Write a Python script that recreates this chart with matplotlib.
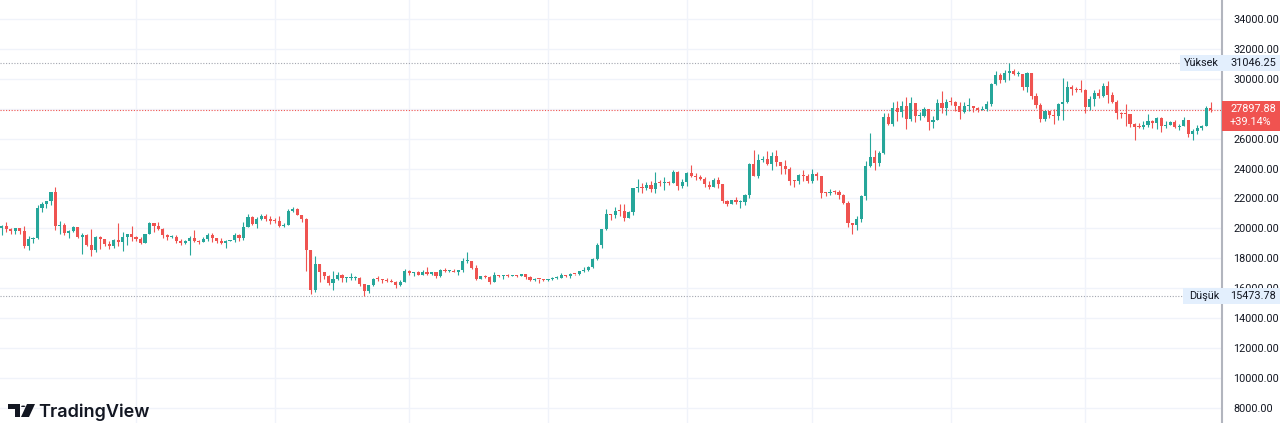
import matplotlib.pyplot as plt
from matplotlib.patches import Rectangle, Polygon, Circle

# BTC daily candles, 1 Sep 2022 .. 29 May 2023
first_open = 20050
closes = [
    # Sep
    20130, 19950, 19830, 19990, 19810, 18840, 19290, 19320, 21380, 21650,
    21830, 22400, 20180, 20240, 19700, 19800, 20110, 19420, 19540, 18870,
    18550, 19410, 19300, 18930, 18800, 19220, 19110, 19430, 19590, 19430,
    # Oct
    19310, 19050, 19620, 20340, 20160, 19960, 19530, 19420, 19450, 19140,
    19050, 19160, 19380, 19180, 19070, 19270, 19550, 19330, 19140, 19050,
    19170, 19210, 19570, 19330, 20090, 20770, 20290, 20600, 20810, 20630, 20500,
    # Nov
    20480, 20150, 20210, 21150, 21300, 20900, 20590, 18540, 15880, 17590,
    17070, 16810, 16330, 16620, 16900, 16660, 16690, 16700, 16700, 16280,
    15780, 16190, 16610, 16600, 16520, 16460, 16440, 16220, 16440, 17170,
    # Dec
    16980, 17090, 16890, 17110, 16970, 17090, 16840, 17230, 17130, 17130,
    17090, 17210, 17780, 17810, 17360, 16630, 16780, 16740, 16440, 16900,
    16830, 16830, 16790, 16840, 16830, 16920, 16710, 16550, 16630, 16600, 16540,
    # Jan
    16620, 16670, 16670, 16850, 16830, 16950, 16940, 17120, 17180, 17440,
    17940, 18850, 19930, 20950, 20870, 21170, 21160, 20690, 21090, 22680,
    22780, 22710, 22920, 22630, 23060, 23010, 23080, 23030, 23740, 22830, 23130,
    # Feb
    23730, 23490, 23430, 23330, 22930, 22760, 23260, 22960, 21800, 21630,
    21860, 21780, 21790, 22200, 24330, 23520, 24570, 24630, 24280, 24840,
    24440, 24190, 23950, 23190, 23160, 23560, 23490, 23150,
    # Mar
    23650, 23470, 22360, 22350, 22430, 22410, 22200, 21720, 20360, 20190,
    20630, 22160, 24200, 24750, 24380, 25050, 27420, 26970, 28040, 27770,
    28180, 27300, 28350, 27480, 27490, 27990, 27140, 27270, 28350, 28030, 28480,
    # Apr
    28450, 28200, 27800, 28170, 28180, 28040, 27920, 27950, 28330, 29650,
    30240, 29900, 30390, 30490, 30320, 30320, 29430, 30400, 28820, 28250,
    27280, 27820, 27600, 27520, 28310, 28420, 29480, 29340, 29250, 29230,
    # May
    28090, 28680, 29030, 28850, 29530, 28900, 28460, 27690, 27650, 27620,
    26990, 26800, 26780, 26930, 27170, 27040, 27400, 26830, 26890, 27120,
    26750, 26850, 27230, 26330, 26480, 26720, 26870, 28080, 27897.88,
]
highs = [
    20200, 20440, 20050, 20000, 20050, 20160, 19460, 19440, 21530, 21780,
    21850, 22450, 22790, 20500, 20330, 19890, 20170, 20110, 19670, 19620,
    19930, 19460, 19470, 19310, 19170, 19290, 20350, 19770, 19640, 20180,
    19480, 19390, 19650, 20450, 20360, 20450, 20040, 19610, 19520, 19530,
    19260, 19220, 19500, 19920, 19210, 19390, 19660, 19700, 19360, 19340,
    19250, 19250, 19680, 19600, 20390, 20990, 20850, 20740, 20980, 20930, 20820,
    20680, 20790, 20380, 21280, 21440, 21350, 20910, 20670, 18580, 18150,
    17620, 17080, 16910, 17150, 17050, 16920, 16730, 17000, 16830, 16750,
    16290, 16240, 16690, 16780, 16620, 16660, 16590, 16480, 16520, 17250,
    17200, 17110, 17140, 17180, 17390, 17110, 17100, 17290, 17320, 17220,
    17270, 17240, 18000, 18390, 17830, 17520, 16800, 16860, 16810, 17060,
    16910, 16870, 16950, 16870, 16870, 16940, 16960, 16780, 16650, 16640, 16640,
    16630, 16760, 16780, 16990, 16880, 17010, 16960, 17160, 17390, 17490,
    18000, 19000, 19960, 21260, 20990, 21420, 21600, 21600, 21180, 22720,
    23300, 23020, 23120, 23150, 23750, 23230, 23450, 23140, 23920, 23800, 23310,
    23760, 24230, 23680, 23570, 23420, 23140, 23340, 23420, 22990, 21900,
    21890, 22070, 21880, 22320, 24370, 25230, 25000, 24850, 25190, 25100,
    25250, 24460, 24590, 24100, 23220, 23650, 23870, 23600,
    24000, 23780, 23480, 22420, 22600, 22550, 22530, 22270, 21810, 20370,
    20800, 22230, 24500, 26400, 25240, 25200, 27700, 27700, 28450, 28500,
    28500, 28810, 28760, 28380, 27790, 28140, 28000, 27500, 28630, 29160, 28640,
    28800, 28520, 28480, 28430, 28740, 28180, 28100, 28170, 28520, 29750,
    30500, 30400, 30570, 31046.25, 30630, 30540, 30320, 30470, 30410, 29080,
    28370, 27880, 27820, 28000, 28380, 30030, 29880, 29590, 29420, 29950,
    29340, 28880, 29260, 29350, 29700, 29830, 29110, 28600, 27800, 28300,
    27650, 27020, 27020, 27200, 27650, 27270, 27450, 27460, 27180, 27150,
    27250, 26980, 27470, 27200, 26630, 26940, 26880, 28150, 28440,
]
lows = [
    19560, 19760, 19650, 19600, 19640, 18680, 18540, 19020, 19300, 21110,
    21370, 21540, 19900, 19650, 19550, 19330, 19740, 19380, 18270, 18820,
    18170, 18390, 18630, 18810, 18640, 18680, 18830, 18490, 18870, 19170,
    19160, 18950, 18990, 19600, 19760, 19870, 19330, 19250, 19320, 19050,
    18860, 18980, 18190, 19100, 18960, 19060, 19170, 19110, 19000, 18940,
    18670, 19120, 19080, 19160, 19240, 20060, 20210, 20030, 20570, 20520, 20270,
    20360, 20060, 20060, 20190, 21090, 20900, 20400, 17170, 15590, 15760,
    16440, 16620, 16230, 15870, 16550, 16420, 16420, 16550, 16560, 16170,
    15473.78, 15650, 16160, 16480, 16350, 16420, 16400, 16000, 16110, 16430,
    16880, 16830, 16880, 16880, 16880, 16910, 16700, 16750, 17090, 17090,
    17070, 16880, 17090, 17670, 17290, 16560, 16590, 16690, 16290, 16400,
    16720, 16590, 16760, 16780, 16740, 16790, 16600, 16470, 16490, 16340, 16480,
    16500, 16550, 16600, 16660, 16750, 16690, 16900, 16910, 17100, 17140,
    17320, 17890, 18700, 19880, 20560, 20660, 20850, 20470, 20660, 20880,
    22460, 22340, 22560, 22430, 22370, 22810, 22560, 22880, 23000, 22580, 22720,
    22860, 23400, 23220, 23260, 22760, 22640, 22750, 22670, 21710, 21480,
    21610, 21640, 21360, 21530, 22060, 23510, 23360, 24460, 24220, 23880,
    24170, 23620, 23630, 22880, 22740, 22950, 23140, 23040,
    23030, 23220, 22050, 22180, 22200, 22290, 21930, 21610, 20090, 19600,
    19900, 20450, 21900, 24100, 23920, 24200, 24940, 26880, 26850, 27200,
    27420, 26630, 27200, 27090, 27260, 27470, 26580, 26700, 27250, 27720, 27560,
    28270, 27870, 27290, 27680, 27850, 27760, 27780, 27880, 27830, 28180,
    29600, 29700, 29800, 29900, 30240, 30170, 29270, 29130, 28650, 28020,
    27140, 27150, 27360, 26970, 27220, 27250, 28390, 28920, 29100, 29100,
    27700, 27890, 28150, 28710, 28800, 28400, 28350, 27300, 27400, 26870,
    26780, 25880, 26700, 26610, 26760, 26700, 26610, 26460, 26690, 26880,
    26680, 26550, 26810, 26100, 25880, 26330, 26560, 26860, 27760,
]
month_starts = [30, 61, 91, 122, 153, 181, 212, 242]  # 1 Oct .. 1 May
price_ticks = list(range(8000, 34001, 2000))
hidden_tick = 28000  # covered by the last-price label
period_high = 31046.25
period_low = 15473.78
last_price = 27897.88
change_pct = 39.14

opens = [first_open] + closes[:-1]
days = list(range(len(closes)))

UP = '#26a69a'
DOWN = '#ef5350'
TXT = '#131722'
W, H = 1280, 423
AX_W = 1222
y0, y1 = 6977, 35271

plt.rcParams['font.family'] = ['Roboto', 'DejaVu Sans']
fig = plt.figure(figsize=(W / 100, H / 100), dpi=100)
ax = fig.add_axes([0, 0, AX_W / W, 1])
ax.set_xlim(-0.38, 272.54)
ax.set_ylim(y0, y1)

def ph(p):  # pixels -> data height
    return p * (y1 - y0) / H

def pw(p):  # pixels -> axes fraction
    return p / AX_W

cols = [UP if c >= o else DOWN for o, c in zip(opens, closes)]
ax.vlines(days, lows, highs, colors=cols, linewidth=0.8, zorder=3)
bottoms = [min(o, c) for o, c in zip(opens, closes)]
heights = [max(abs(c - o), ph(1)) for o, c in zip(opens, closes)]
ax.bar(days, heights, bottom=bottoms, width=0.7, color=cols, linewidth=0, zorder=3)

ax.set_xticks(month_starts)
ax.set_yticks(price_ticks)
ax.yaxis.set_major_formatter(
    plt.FuncFormatter(lambda v, _: '' if round(v) == hidden_tick else f'{v:.2f}'))
ax.yaxis.tick_right()
ax.tick_params(axis='x', length=0, labelbottom=False)
ax.tick_params(axis='y', length=0, pad=8, labelsize=7.8, colors=TXT)
ax.grid(True, color='#f0f3fa', linewidth=1, zorder=0)
ax.set_axisbelow(True)
for s in ['top', 'bottom', 'left']:
    ax.spines[s].set_visible(False)
ax.spines['right'].set_color('#b2b5be')
ax.spines['right'].set_linewidth(1.5)

yt = ax.get_yaxis_transform()
box_w = pw(W - AX_W)

# high / low markers
for val, name, lx in [(period_high, 'Yüksek', 1180), (period_low, 'Düşük', 1183)]:
    ax.plot([0, pw(lx)], [val, val], transform=yt, color='#a3a6af',
            linewidth=0.8, linestyle=(0, (1, 1.5)), zorder=2)
    ax.add_patch(Rectangle((pw(lx), val - ph(8)), pw(AX_W - lx), ph(16), transform=yt,
                           facecolor='#e3effd', edgecolor='none', clip_on=False, zorder=5))
    ax.add_patch(Rectangle((1, val - ph(8)), box_w, ph(16), transform=yt,
                           facecolor='#e3effd', edgecolor='none', clip_on=False, zorder=5))
    ax.text(pw(AX_W - 3), val, name, transform=yt, ha='right', va='center',
            fontsize=7.8, color=TXT, zorder=6, clip_on=False)
    ax.text(1 + pw(8), val, f'{val:.2f}', transform=yt, ha='left', va='center',
            fontsize=7.8, color=TXT, zorder=6, clip_on=False)

# last price
ax.plot([0, 1], [last_price, last_price], transform=yt, color=DOWN,
        linewidth=0.8, linestyle=(0, (1, 1.5)), zorder=2)
ax.add_patch(Rectangle((1, last_price - ph(21)), box_w, ph(30), transform=yt,
                       facecolor='#f05350', edgecolor='none', clip_on=False, zorder=5))
ax.text(1 + pw(8), last_price + ph(1), f'{last_price:.2f}', transform=yt, ha='left',
        va='center', fontsize=7.8, color='white', zorder=6, clip_on=False)
ax.text(1 + pw(8), last_price - ph(12), f'+{change_pct:.2f}%', transform=yt, ha='left',
        va='center', fontsize=7.8, color='white', zorder=6, clip_on=False)

# TradingView logo
def fp(x, y):
    return (x / W, 1 - y / H)

logo = [
    Polygon([fp(8, 404), fp(20, 404), fp(20, 417), fp(15, 417), fp(15, 409), fp(8, 409)],
            closed=True),
    Polygon([fp(27, 404), fp(35, 404), fp(29, 417), fp(21, 417)], closed=True),
]
for p in logo:
    p.set_transform(fig.transFigure)
    p.set_facecolor(TXT)
    p.set_edgecolor('none')
    fig.add_artist(p)
dot = Circle(fp(23.2, 406.3), 2.2 / W, transform=fig.transFigure, facecolor=TXT,
             edgecolor='none')
fig.add_artist(dot)
fig.text(38 / W, 1 - 417 / H, 'TradingView', fontsize=13, color=TXT,
         family=['Inter', 'DejaVu Sans'], fontweight='semibold', va='baseline')

fig.savefig('out.png', dpi=100)
